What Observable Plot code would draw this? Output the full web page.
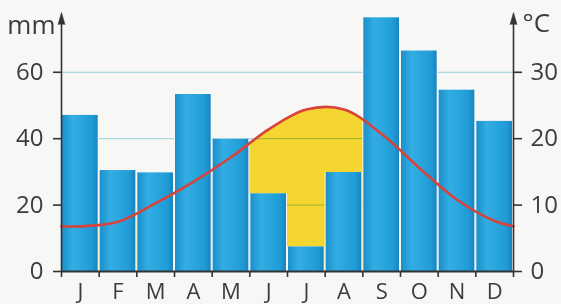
<!DOCTYPE html>
<html>
<head>
<meta charset="utf-8">
<script src="https://cdn.jsdelivr.net/npm/d3@7"></script>
<script src="https://cdn.jsdelivr.net/npm/@observablehq/plot@0.6"></script>
<style>
  html, body { margin: 0; padding: 0; background: #f7f7f5; }
  svg { display: block; }
</style>
</head>
<body>
<div id="chart"></div>
<script>
// ---- data ----
const months = ["J", "F", "M", "A", "M", "J", "J", "A", "S", "O", "N", "D"];
const precipitation = [47, 30.4, 29.7, 53.3, 39.8, 23.4, 7.4, 29.8, 76.4, 66.4, 54.6, 45.2]; // mm
const temperature = [6.8, 7.5, 10.3, 13.5, 17.2, 21.4, 24.4, 24.4, 20.7, 15.6, 10.8, 7.6]; // °C
const temperatureAtEdges = [6.8, 6.8]; // °C at start of Jan / end of Dec
const mmTicks = [0, 20, 40, 60];
const unitLeft = "mm";
const unitRight = "°C";

// ---- derived tables ----
const bars = months.map((m, i) => ({month: i + 1, label: m, p: precipitation[i]}));
const tempLine = [
  {month: 0.5, t: temperatureAtEdges[0]},
  ...months.map((m, i) => ({month: i + 1, t: temperature[i]})),
  {month: 12.5, t: temperatureAtEdges[1]}
];
const xDomain = [0.5, 12.5];
const yDomain = [0, 78];
const axisTop = 74.4;
const bg = "#f7f7f5";
const ink = "#333333";
const textInk = "#3c3c3c";

const plot = Plot.plot({
  width: 561,
  height: 304,
  marginLeft: 61,
  marginRight: 48,
  marginTop: 12,
  marginBottom: 33,
  style: {fontFamily: "'Open Sans', sans-serif", fontSize: "24px", background: bg, color: textInk},
  x: {domain: xDomain, axis: null},
  y: {domain: yDomain, axis: null},
  marks: [
    // arid area (temperature scaled 1 °C = 2 mm)
    Plot.areaY(tempLine, {x: "month", y: d => d.t * 2, curve: "catmull-rom", fill: "#f5d530"}),
    // grid
    Plot.ruleY(mmTicks.filter(d => d > 0), {stroke: "#9fd6e6", strokeWidth: 1, mixBlendMode: "multiply"}),
    // white mask under bars
    Plot.rectY(bars, {x1: d => d.month - 0.5, x2: d => d.month + 0.5, y: "p", fill: bg}),
    // precipitation bars
    Plot.rectY(bars, {x1: d => d.month - 0.5, x2: d => d.month + 0.5, y: "p", fill: "url(#barGrad)", insetLeft: 1, insetRight: 1}),
    // temperature
    Plot.line(tempLine, {x: "month", y: d => d.t * 2, curve: "catmull-rom", stroke: "#d8433b", strokeWidth: 2.6}),
    // axes lines
    Plot.ruleY([0], {stroke: ink, strokeWidth: 1.8}),
    Plot.ruleX(xDomain, {y1: 0, y2: axisTop, stroke: ink, strokeWidth: 1.6}),
    Plot.vector(xDomain, {x: d => d, y: axisTop, length: 12, r: 3.5, shape: "spike", anchor: "start", fill: ink, stroke: ink, strokeWidth: 0.5}),
    // left axis
    Plot.axisY({anchor: "left", ticks: mmTicks, tickSize: 8, tickPadding: 10, stroke: ink, strokeWidth: 1.6, fontSize: 24, label: null}),
    // right axis (°C)
    Plot.axisY({anchor: "right", ticks: mmTicks, tickSize: 8, tickPadding: 9, tickFormat: d => d / 2, stroke: ink, strokeWidth: 1.6, fontSize: 24, label: null}),
    // month boundary ticks
    Plot.axisX({ticks: d3.range(xDomain[0], xDomain[1] + 0.01, 1), tickSize: 6, tickFormat: () => "", stroke: ink, strokeWidth: 1.6, label: null}),
    // month labels
    Plot.axisX({ticks: bars.map(d => d.month), tickSize: 0, tickPadding: 12, tickFormat: i => months[i - 1], fontSize: 22, label: null}),
    // units
    Plot.text([unitLeft], {frameAnchor: "top-left", text: d => d, textAnchor: "end", lineAnchor: "top", dx: -6, dy: 3, fontSize: 26, fill: textInk}),
    Plot.text([unitRight], {frameAnchor: "top-right", text: d => d, textAnchor: "start", lineAnchor: "top", dx: 9, dy: 1, fontSize: 26, fill: textInk})
  ]
});

plot.insertAdjacentHTML("afterbegin",
  `<defs><linearGradient id="barGrad" x1="0" x2="1" y1="0" y2="0">
     <stop offset="0" stop-color="#1b8fcb"/>
     <stop offset="0.3" stop-color="#33ade3"/>
     <stop offset="0.55" stop-color="#2aa6de"/>
     <stop offset="0.85" stop-color="#1f9ad5"/>
     <stop offset="1" stop-color="#1784c1"/>
   </linearGradient></defs>`);

document.getElementById("chart").appendChild(plot);
</script>
</body>
</html>
